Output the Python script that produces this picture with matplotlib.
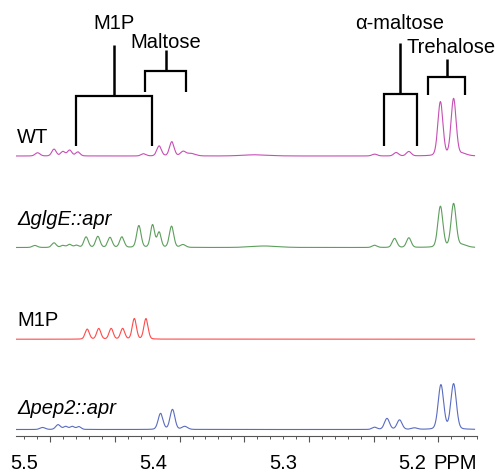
import numpy as np
import matplotlib
matplotlib.use("Agg")
import matplotlib.pyplot as plt

plt.rcParams['font.family'] = ['Liberation Sans', 'DejaVu Sans']

# ---------------- data (ppm positions, heights in arbitrary units) ----------------
wt_ppm = [5.4898, 5.4771, 5.4702, 5.4650, 5.4586, 5.4078, 5.3958, 5.3860, 5.3773, 5.3712,
          5.3212, 5.2291, 5.2125, 5.2027, 5.1783, 5.1681, 5.1612]
wt_h = [3.2, 6.8, 4.4, 5.8, 4.0, 2.2, 10.0, 14.2, 4.2, 2.5, 1.2, 1.8, 3.4, 4.4, 54.0, 57.0, 2.0]
wt_w = [0.0022, 0.0020, 0.0020, 0.0020, 0.0020, 0.0022, 0.0021, 0.0021, 0.0024, 0.004,
        0.012, 0.0024, 0.0022, 0.0022, 0.0023, 0.0023, 0.004]

glge_ppm = [5.4919, 5.4771, 5.4702, 5.4650, 5.4596, 5.4523, 5.4432, 5.4338, 5.4246, 5.4115,
            5.4009, 5.3958, 5.3862, 5.3773, 5.3142, 5.2291, 5.2137, 5.2027, 5.1783, 5.1681, 5.1612]
glge_h = [2.0, 4.6, 2.0, 3.0, 2.2, 10.5, 11.0, 10.0, 10.5, 21.8, 22.5, 15.0, 21.2, 2.8, 1.5,
          2.2, 9.0, 9.6, 41.0, 43.5, 2.5]
glge_w = [0.0022, 0.0020, 0.0020, 0.0020, 0.0020, 0.0020, 0.0020, 0.0020, 0.0020, 0.0020,
          0.0019, 0.0018, 0.0020, 0.0024, 0.012, 0.0022, 0.0021, 0.0021, 0.0023, 0.0023, 0.004]

m1p_ppm = [5.4514, 5.4425, 5.4329, 5.4240, 5.4150, 5.4060]
m1p_h = [10.0, 10.6, 10.6, 10.6, 20.5, 20.5]
m1p_w = [0.0019, 0.0019, 0.0019, 0.0019, 0.0019, 0.0019]

pep2_ppm = [5.4859, 5.4739, 5.4680, 5.4629, 5.4578, 5.3947, 5.3855, 5.3760, 5.2291, 5.2196,
            5.2099, 5.1983, 5.1779, 5.1681]
pep2_h = [2.0, 4.8, 3.0, 3.0, 2.8, 16.0, 20.0, 3.0, 2.2, 11.0, 9.5, 1.5, 44.5, 45.5]
pep2_w = [0.0024, 0.0022, 0.0020, 0.0020, 0.0020, 0.0022, 0.0022, 0.0026, 0.0022, 0.0023,
          0.0023, 0.0026, 0.0025, 0.0025]

spectra_labels = ['WT', 'ΔglgE::apr', 'M1P', 'Δpep2::apr']
spectra_offsets = [279.5, 188.0, 96.3, 6.0]
spectra_colors = ['#c64fb4', '#5d9e5d', '#ff4a4a', '#5a6cc0']

tick_label_pos = [5.5, 5.4, 5.3, 5.2, 5.1669]
tick_label_txt = ['5.5', '5.4', '5.3', '5.2', 'PPM']

# bracket annotations: (label, label x, label y, stem x, stem top, bar y, left, right, leg bottom)
brackets = [
    ('M1P',       5.4304, 406.5, 5.4309, 390.5, 339.5, 5.4604, 5.4012, 289.8),
    ('Maltose',   5.3906, 387.5, 5.3906, 385.5, 364.5, 5.4068, 5.3748, 343.8),
    ('α-maltose', 5.2100, 406.5, 5.2094, 392.8, 341.2, 5.2222, 5.1965, 289.8),
    ('Trehalose', 5.1700, 382.5, 5.1735, 376.2, 358.2, 5.1881, 5.1591, 340.5),
]


def spectrum(x, centers, heights, hwhm, eta=0.15):
    y = np.zeros_like(x)
    for c, h, g in zip(centers, heights, hwhm):
        u = (x - c) / g
        y += h * (eta / (1 + u ** 2) + (1 - eta) * np.exp(-np.log(2) * u ** 2))
    return y


fig = plt.figure(figsize=(4.99, 4.73), dpi=100)
ax = fig.add_axes([16 / 499, (473 - 435.5) / 473, (477 - 16) / 499, 435.5 / 473])
ax.set_xlim(5.5065, 5.1519)
ax.set_ylim(0, 435.5)

x = np.linspace(5.1519, 5.5065, 3000)
peaks = [(wt_ppm, wt_h, wt_w), (glge_ppm, glge_h, glge_w),
         (m1p_ppm, m1p_h, m1p_w), (pep2_ppm, pep2_h, pep2_w)]
for (c, h, w), off, col in zip(peaks, spectra_offsets, spectra_colors):
    ax.plot(x, off + spectrum(x, c, h, w), color=col, lw=0.8)

label_y = [292.5, 210.5, 109.8, 21.5]
for lab, ly in zip(spectra_labels, label_y):
    style = 'italic' if lab.startswith('Δ') else 'normal'
    ax.text(5.5058, ly, lab, fontsize=14.5, style=style, va='baseline', ha='left')

for lab, tx, ty, sx, stop, by, l, r, bot in brackets:
    ax.plot([sx, sx], [stop, by], color='black', lw=1.8, solid_capstyle='butt')
    ax.plot([l, l, r, r], [bot, by, by, bot], color='black', lw=1.6,
            solid_joinstyle='miter', solid_capstyle='butt')
    ax.text(tx, ty, lab, fontsize=14.5, ha='center', va='baseline', clip_on=False)

for s in ['top', 'left', 'right']:
    ax.spines[s].set_visible(False)
ax.spines['bottom'].set_color('#555555')
ax.spines['bottom'].set_linewidth(0.8)
ax.set_yticks([])
ax.set_xticks(np.arange(5.18, 5.49, 0.05))
ax.set_xticks(np.arange(5.15, 5.505, 0.01), minor=True)
ax.tick_params(axis='x', which='major', length=4.5, width=0.8, color='#555555',
               labelbottom=False, direction='out')
ax.tick_params(axis='x', which='minor', length=2.5, width=0.7, color='#555555', direction='out')

sec = ax.secondary_xaxis('bottom')
sec.set_xticks(tick_label_pos, labels=tick_label_txt)
sec.tick_params(length=0, pad=13.5, labelsize=14.5)
sec.spines['bottom'].set_visible(False)

fig.savefig('out.png', dpi=100)
